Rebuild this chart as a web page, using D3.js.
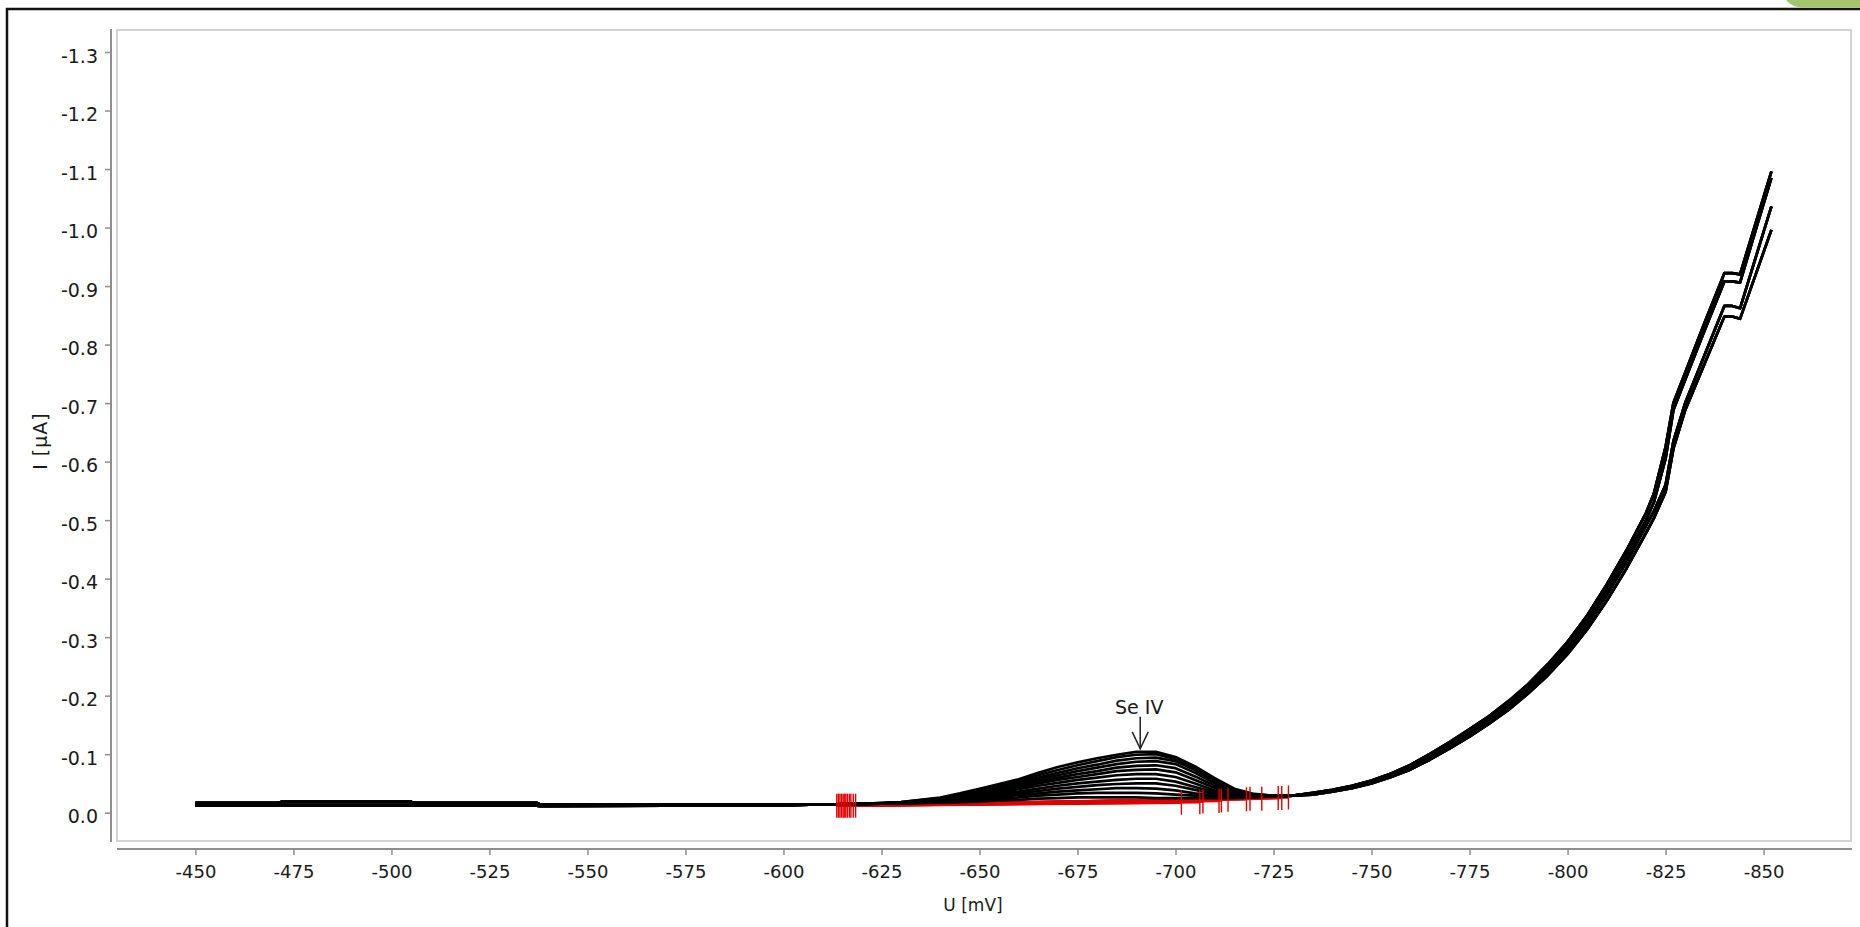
<!DOCTYPE html>
<html>
<head>
<meta charset="utf-8">
<script src="https://cdn.jsdelivr.net/npm/d3@7"></script>
<style>
  html, body { margin: 0; padding: 0; background: #fff; }
  svg { display: block; }
  text { font-family: "DejaVu Sans", sans-serif; fill: #1a1a1a; }
</style>
</head>
<body>
<svg id="chart" width="1860" height="927"></svg>
<script>
// ---- Axis ticks ----------------------------------------------------------
const X_TICKS = [-450, -475, -500, -525, -550, -575, -600, -625, -650, -675, -700, -725, -750, -775, -800, -825, -850];
const Y_TICKS = [-1.3, -1.2, -1.1, -1.0, -0.9, -0.8, -0.7, -0.6, -0.5, -0.4, -0.3, -0.2, -0.1, 0.0];

// ---- Scan potentials (mV) for the three parts of every sweep -------------
const BASE_U = [-450, -471, -472, -505, -506, -537, -538, -570, -600];
const PEAK_U = [-610, -620, -630, -640, -645, -650, -655, -660, -665, -670, -675, -680, -685, -690, -695, -700, -705, -710, -715, -720, -725, -730];
const TAIL_U = [-735, -740, -745, -750, -755, -760, -765, -770, -775, -780, -785, -790, -795, -800, -805, -810, -815, -820, -822, -825, -827, -830, -835, -840, -842, -844, -848, -852];

// ---- Currents (µA) -------------------------------------------------------
// flat starting stretch, three variants
const BASE_I = [
  [-0.012, -0.012, -0.012, -0.012, -0.012, -0.012, -0.011, -0.012, -0.013],
  [-0.014, -0.014, -0.019, -0.019, -0.015, -0.015, -0.012, -0.012, -0.013],
  [-0.017, -0.017, -0.018, -0.018, -0.017, -0.017, -0.014, -0.014, -0.014]
];
// Se(IV) stripping peak, one row per sweep
const PEAK_I = [
  [-0.014, -0.015, -0.018, -0.026, -0.033, -0.041, -0.049, -0.057, -0.068, -0.078, -0.086, -0.093, -0.099, -0.104, -0.104, -0.095, -0.079, -0.059, -0.041, -0.032, -0.029, -0.029],
  [-0.014, -0.015, -0.018, -0.025, -0.031, -0.039, -0.046, -0.054, -0.064, -0.073, -0.081, -0.088, -0.095, -0.099, -0.100, -0.092, -0.076, -0.056, -0.039, -0.031, -0.029, -0.029],
  [-0.014, -0.015, -0.017, -0.024, -0.030, -0.037, -0.044, -0.051, -0.060, -0.068, -0.076, -0.082, -0.089, -0.093, -0.094, -0.088, -0.073, -0.054, -0.038, -0.031, -0.029, -0.029],
  [-0.014, -0.015, -0.017, -0.023, -0.029, -0.035, -0.042, -0.049, -0.057, -0.064, -0.071, -0.077, -0.083, -0.087, -0.088, -0.083, -0.068, -0.050, -0.036, -0.030, -0.029, -0.029],
  [-0.014, -0.015, -0.017, -0.022, -0.027, -0.033, -0.040, -0.046, -0.053, -0.060, -0.066, -0.071, -0.077, -0.080, -0.081, -0.076, -0.062, -0.046, -0.034, -0.029, -0.028, -0.029],
  [-0.014, -0.015, -0.017, -0.021, -0.026, -0.031, -0.037, -0.043, -0.050, -0.056, -0.061, -0.066, -0.071, -0.073, -0.074, -0.069, -0.056, -0.042, -0.032, -0.028, -0.028, -0.029],
  [-0.014, -0.015, -0.016, -0.020, -0.024, -0.029, -0.035, -0.040, -0.046, -0.051, -0.056, -0.060, -0.064, -0.066, -0.066, -0.061, -0.050, -0.038, -0.030, -0.028, -0.028, -0.029],
  [-0.014, -0.015, -0.016, -0.019, -0.023, -0.027, -0.032, -0.036, -0.041, -0.046, -0.050, -0.053, -0.056, -0.058, -0.058, -0.053, -0.044, -0.035, -0.029, -0.027, -0.028, -0.029],
  [-0.014, -0.015, -0.016, -0.019, -0.022, -0.025, -0.029, -0.033, -0.037, -0.041, -0.044, -0.047, -0.049, -0.050, -0.050, -0.046, -0.039, -0.032, -0.028, -0.027, -0.028, -0.029],
  [-0.014, -0.015, -0.016, -0.018, -0.020, -0.023, -0.027, -0.030, -0.033, -0.036, -0.038, -0.040, -0.042, -0.042, -0.041, -0.038, -0.033, -0.029, -0.027, -0.027, -0.028, -0.029],
  [-0.014, -0.015, -0.016, -0.018, -0.019, -0.021, -0.024, -0.026, -0.029, -0.031, -0.033, -0.034, -0.034, -0.034, -0.033, -0.031, -0.029, -0.027, -0.026, -0.027, -0.028, -0.029],
  [-0.014, -0.015, -0.016, -0.017, -0.018, -0.019, -0.021, -0.022, -0.024, -0.025, -0.026, -0.026, -0.026, -0.026, -0.025, -0.025, -0.025, -0.025, -0.025, -0.026, -0.028, -0.029]
];
// hydrogen-evolution rise, four variants
const TAIL_I = [
  [-0.034, -0.039, -0.046, -0.055, -0.067, -0.082, -0.101, -0.121, -0.143, -0.165, -0.191, -0.220, -0.254, -0.292, -0.337, -0.390, -0.448, -0.512, -0.545, -0.625, -0.700, -0.752, -0.838, -0.922, -0.922, -0.920, -1.008, -1.096],
  [-0.033, -0.038, -0.045, -0.054, -0.066, -0.080, -0.098, -0.118, -0.139, -0.161, -0.186, -0.215, -0.248, -0.285, -0.329, -0.381, -0.438, -0.500, -0.530, -0.605, -0.688, -0.740, -0.825, -0.908, -0.908, -0.906, -0.996, -1.085],
  [-0.032, -0.037, -0.043, -0.052, -0.063, -0.077, -0.094, -0.113, -0.134, -0.156, -0.181, -0.209, -0.241, -0.278, -0.321, -0.372, -0.428, -0.490, -0.515, -0.560, -0.635, -0.700, -0.783, -0.866, -0.866, -0.862, -0.949, -1.036],
  [-0.031, -0.036, -0.042, -0.050, -0.061, -0.074, -0.091, -0.110, -0.130, -0.152, -0.176, -0.204, -0.235, -0.271, -0.313, -0.362, -0.417, -0.478, -0.503, -0.548, -0.622, -0.688, -0.768, -0.848, -0.848, -0.844, -0.920, -0.996]
];
// which start / rise variant each sweep uses
const SWEEP_BASE = [0, 1, 2, 0, 1, 2, 0, 1, 2, 0, 1, 2];
const SWEEP_TAIL = [0, 1, 0, 1, 0, 1, 2, 3, 2, 3, 2, 3];

// ---- Peak integration limits (red) --------------------------------------
const MARK_START_U = [-613.6, -614.0, -614.4, -614.8, -615.2, -615.5, -615.9, -616.3, -616.8, -617.2, -617.8, -618.4];
const MARK_START_I = [-0.012, -0.012, -0.012, -0.012, -0.012, -0.012, -0.012, -0.012, -0.012, -0.012, -0.012, -0.012];
const MARK_END_U   = [-728.8, -727.1, -726.2, -722.0, -719.0, -718.1, -713.4, -711.7, -711.1, -707.0, -706.2, -701.5];
const MARK_END_I   = [-0.026, -0.025, -0.025, -0.024, -0.024, -0.023, -0.022, -0.021, -0.020, -0.019, -0.018, -0.017];

// ---- Peak annotation -----------------------------------------------------
const PEAK_LABEL = "Se IV";
const PEAK_LABEL_U = -691;
const PEAK_LABEL_I = -0.104;

// ---- Drawing -------------------------------------------------------------
const svg = d3.select("#chart");
const W = 1860, H = 927;

const x = d3.scaleLinear().domain([-430, -872.3]).range([117, 1851]);
const y = d3.scaleLinear().domain([0.0484, -1.3376]).range([841, 30]);

// outer border and corner decoration
svg.append("path")
  .attr("d", `M7,${H} L7,9 L${W},9`)
  .attr("fill", "none").attr("stroke", "#111").attr("stroke-width", 2.5);
svg.append("path")
  .attr("d", "M1786,0 Q1792,7.5 1803,7.5 L1860,7.5 L1860,0 Z")
  .attr("fill", "#a5c36c");

// plot frame
svg.append("rect")
  .attr("x", 117).attr("y", 30).attr("width", 1851 - 117).attr("height", 841 - 30)
  .attr("fill", "none").attr("stroke", "#d2d2d2").attr("stroke-width", 2);

// axes
const fmtY = d => (d === 0 ? "0.0" : d.toFixed(1));
const yAxis = svg.append("g").attr("transform", "translate(111,0)")
  .call(d3.axisLeft(y).tickValues(Y_TICKS).tickFormat(fmtY).tickSize(6).tickSizeOuter(0).tickPadding(7));
yAxis.selectAll("text").attr("dy", 10).style("font-size", "19px");

const xAxis = svg.append("g").attr("transform", "translate(0,849)")
  .call(d3.axisBottom(x).tickValues(X_TICKS).tickFormat(d => String(d)).tickSize(6).tickSizeOuter(0).tickPadding(10));
xAxis.selectAll("text").style("font-size", "18px");

[yAxis, xAxis].forEach(g => {
  g.select(".domain").attr("stroke", "#8e8e8e").attr("stroke-width", 2);
  g.selectAll(".tick line").attr("stroke", "#8e8e8e").attr("stroke-width", 1.5);
  g.selectAll("text").attr("fill", "#1a1a1a");
});
yAxis.select(".domain").attr("d", "M0,29V842");
xAxis.select(".domain").attr("d", "M117,0H1852");

// axis titles
svg.append("text")
  .attr("x", 973).attr("y", 911).attr("text-anchor", "middle")
  .style("font-size", "17px").text("U [mV]");
svg.append("text")
  .attr("transform", "translate(47,441) rotate(-90)").attr("text-anchor", "middle")
  .style("font-size", "19px").style("letter-spacing", "1px").text("I [µA]");

// sweeps
const sweeps = PEAK_I.map((peak, k) => {
  const pts = [];
  BASE_U.forEach((u, i) => pts.push([u, BASE_I[SWEEP_BASE[k]][i]]));
  PEAK_U.forEach((u, i) => pts.push([u, peak[i]]));
  TAIL_U.forEach((u, i) => pts.push([u, TAIL_I[SWEEP_TAIL[k]][i]]));
  return pts;
});

const RED = "#e00000";

// integration baselines sit underneath the sweeps
const baseG = svg.append("g");
MARK_START_U.forEach((u0, k) => {
  baseG.append("line")
    .attr("x1", x(u0)).attr("y1", y(MARK_START_I[k]))
    .attr("x2", x(MARK_END_U[k])).attr("y2", y(MARK_END_I[k]))
    .attr("stroke", RED).attr("stroke-width", 2.6);
});

const line = d3.line().x(d => x(d[0])).y(d => y(d[1]));

svg.append("g").selectAll("path")
  .data(sweeps.slice().reverse())
  .join("path")
  .attr("d", line)
  .attr("fill", "none")
  .attr("stroke", "#000")
  .attr("stroke-width", 2.7)
  .attr("stroke-linejoin", "round");

// limit markers on top
const markG = svg.append("g");
const MARK_HALF = 12;
MARK_START_U.forEach((u0, k) => {
  [[u0, MARK_START_I[k]], [MARK_END_U[k], MARK_END_I[k]]].forEach(([u, i]) => {
    markG.append("line")
      .attr("x1", x(u)).attr("x2", x(u))
      .attr("y1", y(i) - MARK_HALF).attr("y2", y(i) + MARK_HALF)
      .attr("stroke", RED).attr("stroke-width", 1.4);
  });
});

// peak annotation with open arrow
const tipX = x(PEAK_LABEL_U), tipY = y(PEAK_LABEL_I) - 3;
svg.append("text")
  .attr("x", tipX - 1).attr("y", tipY - 35).attr("text-anchor", "middle")
  .style("font-size", "19px").text(PEAK_LABEL);
svg.append("line")
  .attr("x1", tipX).attr("x2", tipX).attr("y1", tipY - 32).attr("y2", tipY)
  .attr("stroke", "#222").attr("stroke-width", 1.5);
svg.append("path")
  .attr("d", `M${tipX - 8},${tipY - 17} L${tipX},${tipY} L${tipX + 8},${tipY - 17}`)
  .attr("fill", "none").attr("stroke", "#222").attr("stroke-width", 1.5);
</script>
</body>
</html>
